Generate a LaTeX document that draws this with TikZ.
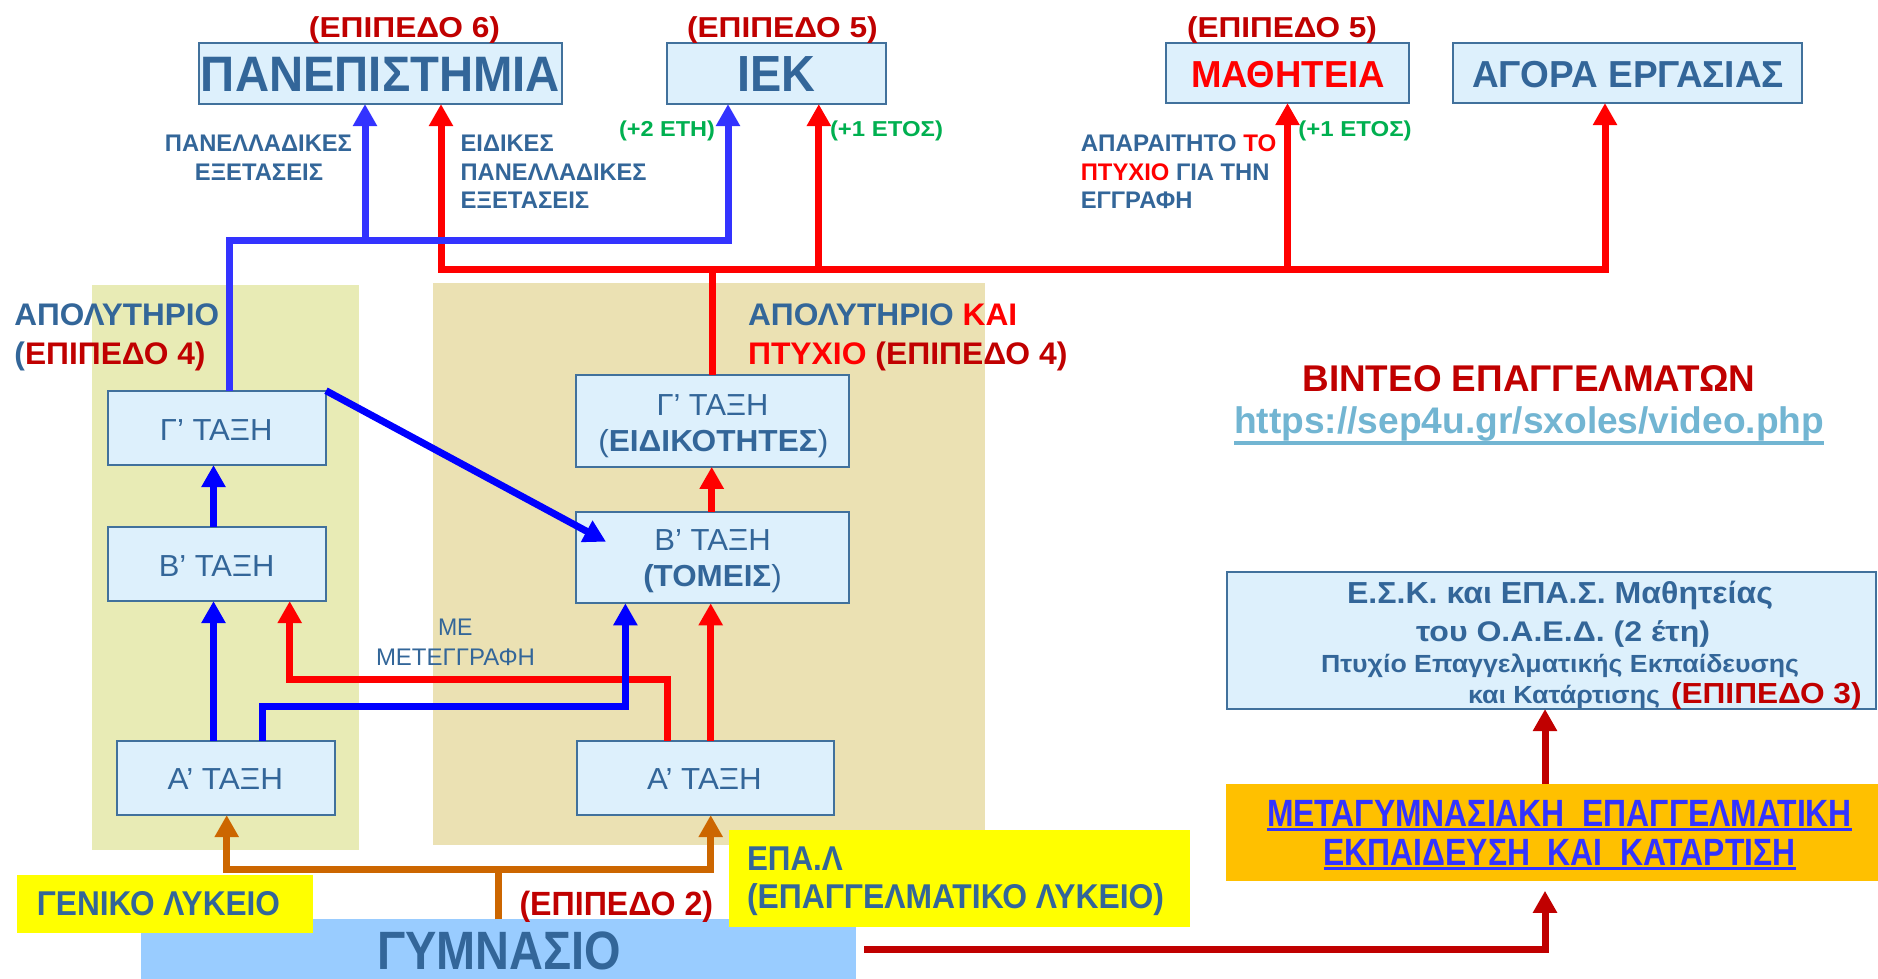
\documentclass[tikz,border=0pt]{standalone}
\usepackage{fontspec}
\setmainfont{Liberation Sans}
\usepackage{graphicx}
\usetikzlibrary{arrows.meta,calc}
\definecolor{tblue}{HTML}{336699}
\definecolor{bfill}{HTML}{DDF0FC}
\definecolor{bdraw}{HTML}{41719C}
\definecolor{dred}{HTML}{C00000}
\definecolor{rd}{HTML}{FF0000}
\definecolor{gr}{HTML}{00B050}
\definecolor{blA}{HTML}{3333FF}
\definecolor{blB}{HTML}{0000FF}
\definecolor{orn}{HTML}{CC6600}
\definecolor{ylw}{HTML}{FFFF00}
\definecolor{gymc}{HTML}{99CCFF}
\definecolor{metac}{HTML}{FFC000}
\definecolor{panL}{HTML}{E8EBB5}
\definecolor{panR}{HTML}{EBE1B3}
\definecolor{urlc}{HTML}{72B5D2}
\newcommand\HW[2]{\resizebox{#1}{\height}{#2}}
\begin{document}
\begin{tikzpicture}[x=0.5pt,y=-0.5pt,
  bx/.style 2 args={draw=bdraw, fill=bfill, line width=1pt, inner sep=0pt, outer sep=0pt, minimum width=#1, minimum height=#2},
  pl/.style 2 args={inner sep=0pt, outer sep=0pt, minimum width=#1, minimum height=#2},
  conn/.style={line width=3.5pt},
  arr/.style={-{Triangle[width=11.5pt,length=11pt]}},
  arrb/.style={{Triangle[width=11.5pt,length=11pt]}-{Triangle[width=11.5pt,length=11pt]}},
  lb/.style={inner sep=0pt, outer sep=0pt, anchor=base, text=tblue},
  fb/.style={font={\fontsize{#1pt}{#1pt}\selectfont\bfseries}},
  fn/.style={font={\fontsize{#1pt}{#1pt}\selectfont}}]
\useasboundingbox (0,0) rectangle (1878,979);
\fill[white] (0,0) rectangle (1878,979);

% panels
\node[pl={133.3pt}{282.5pt}, fill=panL] (panelL) at (225.4,567.5) {};
\node[pl={276.3pt}{281.2pt}, fill=panR] (panelR) at (708.8,563.9) {};

% top boxes
\node[bx={181.5pt}{30.7pt}] (uni) at (380.2,73.4) {};
\node[bx={109.4pt}{30.7pt}] (iek) at (776.4,73.4) {};
\node[bx={121.5pt}{30.2pt}] (math) at (1287.5,72.9) {};
\node[bx={174.5pt}{30.2pt}] (agora) at (1627.5,72.9) {};

% class boxes
\node[bx={109pt}{37.2pt}] (g3L) at (217,427.9) {};
\node[bx={109pt}{37.2pt}] (g2L) at (217,563.9) {};
\node[bx={109.3pt}{37.2pt}] (g1L) at (225.8,777.9) {};
\node[bx={136.4pt}{45.9pt}] (g3R) at (712.4,420.9) {};
\node[bx={136.4pt}{45.8pt}] (g2R) at (712.4,557.5) {};
\node[bx={128.3pt}{37.2pt}] (g1R) at (705.3,777.9) {};

% right side boxes
\node[bx={324.7pt}{68.5pt}] (esk) at (1551.4,640.5) {};
\node[pl={326pt}{48.4pt}, fill=metac] (meta) at (1552,832.4) {};

% bottom boxes
\node[pl={357.7pt}{29.9pt}, fill=gymc] (gym) at (498.3,949.2) {};
\node[pl={148pt}{28.9pt}, fill=ylw] (genlyk) at (165,903.9) {};

% coordinates
\coordinate (yB) at (0,240);
\coordinate (yR) at (0,269);
\coordinate (yO) at (0,869);
\coordinate (uB) at ($(uni.south west)+(166.3,0)$);
\coordinate (uR) at ($(uni.south west)+(242.3,0)$);
\coordinate (iB) at ($(iek.south west)+(61,0)$);
\coordinate (iR) at ($(iek.south west)+(151.8,0)$);
\coordinate (aR) at ($(agora.south west)+(152,0)$);
\coordinate (gLo) at ($(g3L.north west)+(121,0)$);
\coordinate (oL) at ($(g1L.south west)+(110.2,0)$);
\coordinate (oR) at ($(g1R.south west)+(133.7,0)$);
\coordinate (mB) at ($(meta.south west)+(319,10)$);
\coordinate (mT) at ($(meta.north west)+(319,0)$);

% top red network
\draw[conn,rd,arrb] (uR) -- (uR |- yR) -- (aR |- yR) -- (aR);
\draw[conn,rd] (g3R.north) -- (g3R.north |- yR);
\draw[conn,rd,arr] (iR |- yR) -- (iR);
\draw[conn,rd,arr] (math.south |- yR) -- (math.south);

% top blue network
\draw[conn,blA,arr] (gLo) -- (gLo |- yB) -| (iB);
\draw[conn,blA,arr] (uB |- yB) -- (uB);

% lower red
\draw[conn,rd,arr] ($(g1R.north west)+(90.6,0)$) -- ++(0,-61.7) -| ($(g2L.south west)+(181.7,0)$);
\draw[conn,rd,arr] ($(g1R.north west)+(133.7,0)$) -- ($(g2R.south west)+(134.7,0)$);
\draw[conn,rd,arr] ($(g2R.north west)+(135.7,0)$) -- ($(g3R.south west)+(135.7,0)$);

% lower blue
\draw[conn,blB,arr] ($(g2L.north west)+(105.5,0)$) -- ($(g3L.south west)+(105.5,0)$);
\draw[conn,blB,arr] ($(g1L.north west)+(97,0)$) -- ($(g2L.south west)+(105.5,0)$);
\draw[conn,blB,arr] ($(g1L.north west)+(145.5,0)$) -- ++(0,-34) -| ($(g2R.south west)+(49.4,0)$);
\draw[conn,blB,arr] (g3L.north east) -- ($(g2R.north west)+(30,30)$);

% orange tree
\draw[conn,orn,arrb] (oL) -- (oL |- yO) -- (oR |- yO) -- (oR);
\draw[conn,orn] (gym.north) -- (gym.north |- yO);

% dark red
\draw[conn,dred,arr] ($(gym.east)+(8,0)$) -| (mB);
\draw[conn,dred,arr] (mT) -- (mT |- esk.south);

% EPA.L box above panel and gymnasio
\node[pl={230.8pt}{48.4pt}, fill=ylw] (epal) at (959.3,878.4) {};

% labels top
\node[lb,fb=14.4,text=dred] (l6) at (404.5,37.3) {\HW{95.5pt}{(ΕΠΙΠΕΔΟ 6)}};
\node[lb,fb=14.4,text=dred] (l5a) at (782.4,37.3) {\HW{95.3pt}{(ΕΠΙΠΕΔΟ 5)}};
\node[lb,fb=14.4,text=dred] (l5b) at (1282,37.3) {\HW{95pt}{(ΕΠΙΠΕΔΟ 5)}};
\node[lb,fb=24.9] (tuni) at (380.5,91.7) {\HW{179.5pt}{ΠΑΝΕΠΙΣΤΗΜΙΑ}};
\node[lb,fb=25.4] (tiek) at (776.5,91.7) {\HW{39pt}{ΙΕΚ}};
\node[lb,fb=18.8,text=rd] (tmath) at (1288,87.3) {\HW{97pt}{ΜΑΘΗΤΕΙΑ}};
\node[lb,fb=18.8] (tag) at (1628,87.3) {\HW{156pt}{ΑΓΟΡΑ ΕΡΓΑΣΙΑΣ}};

\node[lb,fb=12] (pe1) at (258.5,151.7) {\HW{93.5pt}{ΠΑΝΕΛΛΑΔΙΚΕΣ}};
\node[lb,fb=12] (pe2) at (259,180) {\HW{64pt}{ΕΞΕΤΑΣΕΙΣ}};
\node[lb,fb=12,anchor=base west] (ep1) at (460.7,151.7) {\HW{46.5pt}{ΕΙΔΙΚΕΣ}};
\node[lb,fb=12,anchor=base west] (ep2) at (460.7,180) {\HW{92.9pt}{ΠΑΝΕΛΛΑΔΙΚΕΣ}};
\node[lb,fb=12,anchor=base west] (ep3) at (460.7,208.3) {\HW{64.3pt}{ΕΞΕΤΑΣΕΙΣ}};
\node[lb,fb=10.8,text=gr] (gA) at (667,136) {\HW{48pt}{(+2 ΕΤΗ)}};
\node[lb,fb=10.8,text=gr] (gB) at (886.5,136) {\HW{56.5pt}{(+1 ΕΤΟΣ)}};
\node[lb,fb=10.8,text=gr] (gC) at (1355,136) {\HW{56.6pt}{(+1 ΕΤΟΣ)}};
\node[lb,fb=12,anchor=base west] (ap1) at (1080.8,151.7) {\HW{97.8pt}{ΑΠΑΡΑΙΤΗΤΟ \textcolor{rd}{ΤΟ}}};
\node[lb,fb=12,anchor=base west] (ap2) at (1080.8,180) {\HW{94.4pt}{\textcolor{rd}{ΠΤΥΧΙΟ} ΓΙΑ ΤΗΝ}};
\node[lb,fb=12,anchor=base west] (ap3) at (1080.8,208.3) {\HW{55.8pt}{ΕΓΓΡΑΦΗ}};

% apolytirio labels
\node[lb,fb=15.6,anchor=base west] (al1) at (14.5,325.7) {\HW{102.3pt}{ΑΠΟΛΥΤΗΡΙΟ}};
\node[lb,fb=15.6,anchor=base west] (al2) at (14.5,364) {\HW{95.5pt}{(\textcolor{dred}{ΕΠΙΠΕΔΟ 4)}}};
\node[lb,fb=15.6,anchor=base west] (ar1) at (748,325.7) {\HW{134.6pt}{ΑΠΟΛΥΤΗΡΙΟ \textcolor{rd}{ΚΑΙ}}};
\node[lb,fb=15.6,anchor=base west,text=dred] (ar2) at (748,364) {\HW{159.7pt}{\textcolor{rd}{ΠΤΥΧΙΟ} (ΕΠΙΠΕΔΟ 4)}};

% class labels
\node[lb,fn=15.2] (t3L) at (216.2,440) {\HW{56.3pt}{Γ’ ΤΑΞΗ}};
\node[lb,fn=15.2] (t2L) at (216.6,576) {\HW{57.8pt}{Β’ ΤΑΞΗ}};
\node[lb,fn=15.2] (t1L) at (225.3,789.3) {\HW{57.7pt}{Α’ ΤΑΞΗ}};
\node[lb,fn=15.2] (t1R) at (704.4,789.3) {\HW{57.4pt}{Α’ ΤΑΞΗ}};
\node[lb,fn=15.2] (t3Ra) at (712.5,415) {\HW{55.9pt}{Γ’ ΤΑΞΗ}};
\node[lb,fn=15.2] (t3Rb) at (713.3,451.7) {\HW{115pt}{(\textbf{ΕΙΔΙΚΟΤΗΤΕΣ})}};
\node[lb,fn=15.2] (t2Ra) at (712.5,550) {\HW{58.2pt}{Β’ ΤΑΞΗ}};
\node[lb,fn=15.2] (t2Rb) at (712.5,586.7) {\HW{69.2pt}{\textbf{(ΤΟΜΕΙΣ})}};
\node[lb,fn=12] (me1) at (455.3,635) {\HW{17.3pt}{ΜΕ}};
\node[lb,fn=12] (me2) at (455.5,665) {\HW{79.5pt}{ΜΕΤΕΓΓΡΑΦΗ}};

% video
\node[lb,fb=18.6,text=dred] (vid) at (1529,391.5) {\HW{226.5pt}{ΒΙΝΤΕΟ ΕΠΑΓΓΕΛΜΑΤΩΝ}};
\node[lb,fb=18.5,text=urlc] (url) at (1529.2,433) {\HW{295pt}{https://sep4u.gr/sxoles/video.php}};
\draw[urlc,line width=2pt] ($(url.base west)+(0,9.5)$) -- ($(url.base east)+(0,9.5)$);

% ESK
\node[lb,fb=15.2] (e1) at (1560,603) {\HW{213pt}{Ε.Σ.Κ. και ΕΠΑ.Σ. Μαθητείας}};
\node[lb,fb=14.2] (e2) at (1563,641) {\HW{147pt}{του Ο.Α.Ε.Δ. (2 έτη)}};
\node[lb,fb=12.4] (e3) at (1560,672.5) {\HW{239pt}{Πτυχίο Επαγγελματικής Εκπαίδευσης}};
\node[lb,fb=12.4] (e4) at (1564,703.3) {\HW{96pt}{και Κατάρτισης}};
\node[lb,fb=14.5,text=dred] (e5) at (1766.3,703) {\HW{95.3pt}{(ΕΠΙΠΕΔΟ 3)}};

% meta
\node[lb,fb=19,text=blA] (m1) at (1559.5,826.7) {\HW{292.5pt}{ΜΕΤΑΓΥΜΝΑΣΙΑΚΗ\ \ ΕΠΑΓΓΕΛΜΑΤΙΚΗ}};
\node[lb,fb=19,text=blA] (m2) at (1559.5,865) {\HW{236pt}{ΕΚΠΑΙΔΕΥΣΗ\ \ ΚΑΙ\ \ ΚΑΤΑΡΤΙΣΗ}};
\draw[blA,line width=1.3pt] ($(m1.base west)+(0,3)$) -- ($(m1.base east)+(0,3)$);
\draw[blA,line width=1.3pt] ($(m2.base west)+(0,3.3)$) -- ($(m2.base east)+(0,3.3)$);

% bottom labels
\node[lb,fb=17.2,anchor=base west] (epa1) at (747,870) {\HW{47.9pt}{ΕΠΑ.Λ}};
\node[lb,fb=17.2,anchor=base west] (epa2) at (747,908) {\HW{208.5pt}{(ΕΠΑΓΓΕΛΜΑΤΙΚΟ ΛΥΚΕΙΟ)}};
\node[lb,fb=17.2] (gl) at (158.5,915) {\HW{121.5pt}{ΓΕΝΙΚΟ ΛΥΚΕΙΟ}};
\node[lb,fb=16.8,text=dred] (l2) at (616.3,915) {\HW{96.8pt}{(ΕΠΙΠΕΔΟ 2)}};
\node[lb,fb=27] (tg) at (499,969.5) {\HW{122pt}{ΓΥΜΝΑΣΙΟ}};
\end{tikzpicture}
\end{document}
